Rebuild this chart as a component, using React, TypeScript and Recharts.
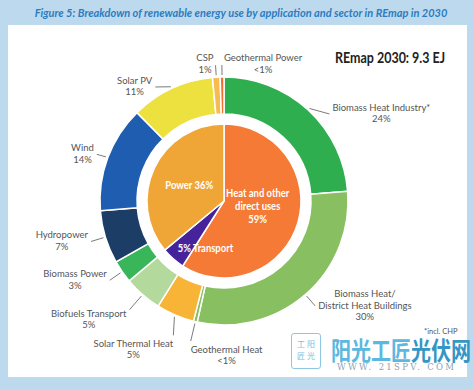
import React from "react";
import { PieChart, Pie, Cell } from "recharts";

// outer ring: application / sector, clockwise from 12 o'clock
const sectorNames = [
  "Biomass Heat Industry*",
  "Biomass Heat/\nDistrict Heat Buildings",
  "Geothermal Heat",
  "Solar Thermal Heat",
  "Biofuels Transport",
  "Biomass Power",
  "Hydropower",
  "Wind",
  "Solar PV",
  "CSP",
  "Geothermal Power",
];
const sectorValues = [24, 30, 0.5, 5, 5, 3, 7, 14, 11, 1, 0.5];
const sectorShares = ["24%", "30%", "<1%", "5%", "5%", "3%", "7%", "14%", "11%", "1%", "<1%"];

// inner pie: use groups
const useNames = ["Heat and other\ndirect uses\n59%", "5% Transport", "Power 36%"];
const useValues = [59, 5, 36];

const sectorColors = [
  "#2eae4e",
  "#88bf60",
  "#88bf60",
  "#f8b437",
  "#b3d99d",
  "#3ab65a",
  "#1b3d66",
  "#1f5db0",
  "#ece13f",
  "#f8bb50",
  "#f2702b",
];
const useColors = ["#f47a36", "#46239a", "#f0a636"];

const LABEL_FONT = "Lato, 'Open Sans', sans-serif";
const RADIAN = Math.PI / 180;

let ctx: CanvasRenderingContext2D | null = null;
const measure = (t: string, font: string) => {
  if (!ctx) ctx = document.createElement("canvas").getContext("2d");
  if (!ctx) return t.length * 4.5;
  ctx.font = font;
  return ctx.measureText(t).width;
};

// which side of the leader line the text sits on, for the near-vertical ones
const anchorOverride: Record<string, "start" | "end"> = {
  "Geothermal Heat": "start",
  "Geothermal Power": "start",
};
// small hand nudges of the leader end, as in the original layout
const labelNudge: Record<string, [number, number]> = {
  "Biomass Heat Industry*": [11, 15],
  "Solar PV": [-10, 12],
  "Solar Thermal Heat": [6, 2],
  Wind: [3, 2],
};

const SectorLabel = (props: any) => {
  const { cx, cy, midAngle, outerRadius, index } = props;
  const sin = Math.sin(-midAngle * RADIAN);
  const cos = Math.cos(-midAngle * RADIAN);
  const name = sectorNames[index];
  const [nx, ny] = labelNudge[name] ?? [0, 0];
  const lowLeft = sin > 0.7 && cos < 0;
  const vertical = Math.abs(cos) < (sin > 0 ? 0.45 : 0.3);
  const topVertical = vertical && sin < 0;
  const r1 = outerRadius + 2;
  const r2 = outerRadius + (lowLeft ? 20 : topVertical ? 12 : 15);
  const x1 = cx + r1 * cos;
  const y1 = cy + r1 * sin;
  const x2 = cx + r2 * cos + nx;
  const y2 = cy + r2 * sin + ny;

  const lines = [...name.split("\n"), sectorShares[index]];
  const fs = 9.5;
  const lh = 11.5;
  const w = Math.max(...lines.map((l) => measure(l, `${fs}px Lato`)));

  let anchor: "start" | "end" = cos > 0 ? "start" : "end";
  if (vertical) anchor = anchorOverride[name] ?? "end";
  const gap = vertical ? (topVertical ? 2 : 0) : 3;
  const mx = anchor === "start" ? x2 + gap + w / 2 : x2 - gap - w / 2;

  let top: number;
  if (topVertical) top = y2 - 1 - (lines.length * lh) / 2;
  else if (!vertical) top = y2 - (lines.length * lh) / 2 + (lowLeft ? 10 : 0);
  else top = y2 + 3;

  return (
    <g>
      <line x1={x1} y1={y1} x2={x2} y2={y2} stroke="#6b6b6b" strokeWidth={0.9} />
      {lines.map((l, i) => (
        <text
          key={i}
          x={mx}
          y={top + lh * i + 8.5}
          textAnchor="middle"
          fontSize={fs}
          fontFamily={LABEL_FONT}
          fill="#555"
        >
          {l}
        </text>
      ))}
    </g>
  );
};

// inner label placement: radius, rotation and nudge
const useLabelPos = [
  { r: 33, anchor: "middle", dx: 2, dy: -4 },
  { r: 64, anchor: "start", dx: -4, dy: -1 },
  { r: 53, anchor: "middle", da: 5, dx: 15, dy: 2 },
];

const UseLabel = (props: any) => {
  const { cx, cy, midAngle, index } = props;
  const p: any = useLabelPos[index];
  const a = (midAngle + (p.da ?? 0)) * RADIAN;
  const x = cx + p.r * Math.cos(-a) + (p.dx ?? 0);
  const y = cy + p.r * Math.sin(-a) + (p.dy ?? 0);
  const lines = useNames[index].split("\n");
  const lh = 13;
  const top = y - ((lines.length - 1) * lh) / 2;
  return (
    <g>
      {lines.map((l, i) => (
        <text
          key={i}
          transform={`translate(${x},${top + i * lh + 4}) scale(0.86,1)`}
          x={0}
          y={0}
          textAnchor={p.anchor}
          fontSize={11}
          fontWeight="bold"
          fontFamily={LABEL_FONT}
          fill="#fff"
        >
          {l}
        </text>
      ))}
    </g>
  );
};

const outerData = sectorNames.map((name, i) => ({ name, value: sectorValues[i] }));
const innerData = useNames.map((name, i) => ({ name, value: useValues[i] }));

export default function App() {
  return (
    <div
      style={{
        position: "absolute",
        left: 0,
        top: 0,
        width: 474,
        height: 389,
        background: "#bdd9ee",
        overflow: "hidden",
        fontFamily: LABEL_FONT,
      }}
    >
      <div
        style={{
          position: "absolute",
          left: 0,
          top: 6,
          width: 482,
          textAlign: "center",
          fontSize: 11,
          fontWeight: "bold",
          fontStyle: "italic",
          color: "#2c7cc0",
          whiteSpace: "nowrap",
        }}
      >
        Figure 5: Breakdown of renewable energy use by application and sector in REmap in 2030
      </div>
      <div
        style={{
          position: "absolute",
          left: 8,
          top: 25,
          width: 459,
          height: 352,
          background: "#fff",
        }}
      />
      <div
        style={{
          position: "absolute",
          left: 335,
          top: 49,
          fontSize: 14.5,
          fontWeight: "bold",
          color: "#222",
          whiteSpace: "nowrap",
          transform: "scaleX(0.86)",
          transformOrigin: "left",
        }}
      >
        REmap 2030: 9.3 EJ
      </div>
      <div style={{ position: "absolute", left: 0, top: 0 }}>
        <PieChart width={474} height={389}>
          <Pie
            data={innerData}
            dataKey="value"
            cx={219}
            cy={196}
            innerRadius={0}
            outerRadius={77}
            startAngle={90}
            endAngle={-270}
            stroke="#fff"
            strokeWidth={1.5}
            label={UseLabel}
            labelLine={false}
            isAnimationActive={false}
          >
            {innerData.map((d, i) => (
              <Cell key={d.name} fill={useColors[i]} />
            ))}
          </Pie>
          <Pie
            data={outerData}
            dataKey="value"
            cx={219}
            cy={196}
            innerRadius={87}
            outerRadius={124}
            startAngle={90}
            endAngle={-270}
            stroke="#fff"
            strokeWidth={1.5}
            label={SectorLabel}
            labelLine={false}
            isAnimationActive={false}
          >
            {outerData.map((d, i) => (
              <Cell key={d.name} fill={sectorColors[i]} />
            ))}
          </Pie>
        </PieChart>
      </div>
      {/* watermark and footnote */}
      <div
        style={{
          position: "absolute",
          left: 291,
          top: 333,
          width: 30,
          height: 36,
          border: "1.5px solid #8cc8e0",
          borderRadius: 3,
          color: "#7cc0dc",
          fontSize: 8,
          lineHeight: "12px",
          textAlign: "center",
          fontFamily: "'Noto Sans CJK SC'",
          boxSizing: "border-box",
          paddingTop: 4,
        }}
      >
        工 阳
        <br />
        匠 光
      </div>
      <div
        style={{
          position: "absolute",
          left: 331,
          top: 332,
          fontSize: 20,
          lineHeight: "28px",
          fontWeight: "bold",
          fontFamily: "'Noto Sans CJK SC'",
          whiteSpace: "nowrap",
          transform: "scaleY(1.25)",
          transformOrigin: "top",
        }}
      >
        <span style={{ color: "#5cb8de" }}>阳光工匠</span>
        <span style={{ color: "#3596c6" }}>光伏网</span>
      </div>
      <div
        style={{
          position: "absolute",
          left: 337,
          top: 362,
          fontSize: 8.5,
          color: "#8aa4b4",
          fontFamily: "'DejaVu Serif', serif",
          letterSpacing: 2.3,
          whiteSpace: "nowrap",
        }}
      >
        WWW. 21SPV. COM
      </div>
      <div style={{ position: "absolute", left: 424, top: 327, fontSize: 7.5, color: "#555" }}>*incl. CHP</div>
    </div>
  );
}
